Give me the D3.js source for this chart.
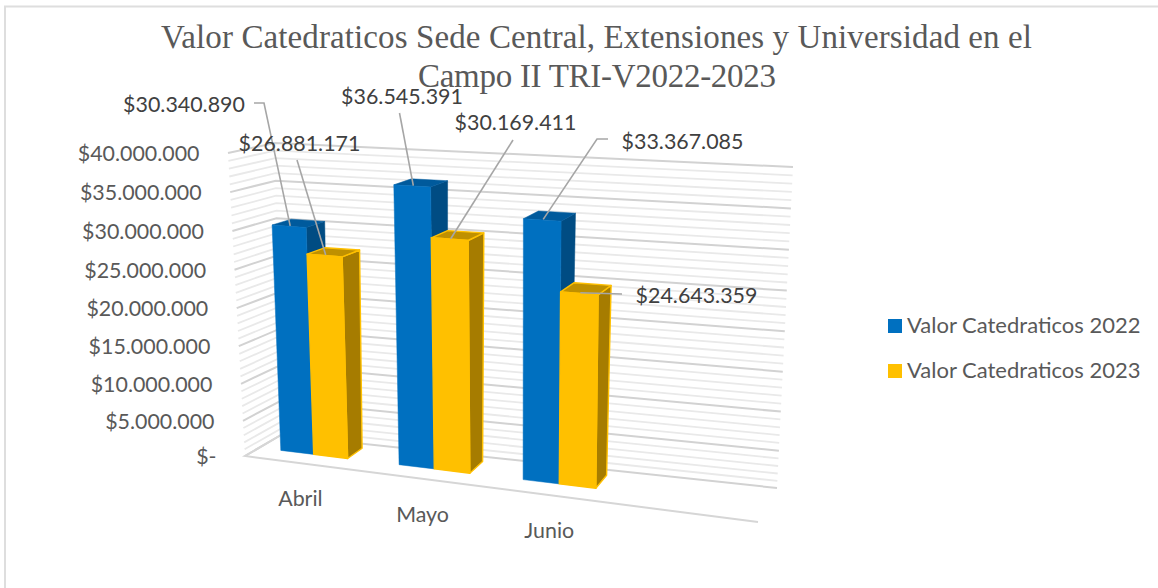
<!DOCTYPE html>
<html><head><meta charset="utf-8">
<script src="https://cdn.jsdelivr.net/npm/d3@7"></script>
<style>html,body{margin:0;padding:0;background:#fff}svg{display:block}</style>
</head><body><svg id="c" width="1158" height="588"></svg>
<script>
const titleLines = ["Valor Catedraticos Sede Central, Extensiones y Universidad en el","Campo II TRI-V2022-2023"];
const categories = ["Abril","Mayo","Junio",""];
const seriesNames = ["Valor Catedraticos 2022","Valor Catedraticos 2023"];
const values2022 = [30340890,36545391,33367085];
const values2023 = [26881171,30169411,24643359];
const tickValues = [0,5000000,10000000,15000000,20000000,25000000,30000000,35000000,40000000];
const tickLabels = ["$-","$5.000.000","$10.000.000","$15.000.000","$20.000.000","$25.000.000","$30.000.000","$35.000.000","$40.000.000"];
const dataLabels2022 = ["$30.340.890","$36.545.391","$33.367.085"];
const dataLabels2023 = ["$26.881.171","$30.169.411","$24.643.359"];

const W=1158,H=588, svg=d3.select("#c");
const LABEL_FONT="Lato, 'Open Sans', sans-serif", INK="#595959", DARK="#404040";
const FS=21.4;

// 3D box corners: f=front, b=back, l=left, r=right, 0=floor, 1=top
const box={fl0:[245,456],fr0:[758,522],bl0:[281,435],br0:[777,488],
           fl1:[228,153],fr1:[768,187],bl1:[275,143],br1:[793,167]};
const yScale=d3.scalePow().exponent(1.035).domain([0,40000000]).range([0,1]);
const persp=d3.scalePow().exponent(1.05).domain([0,1]).range([0,1]);
const catBand=d3.scaleBand().domain(categories).range([0,0.972]).paddingInner(0.426).paddingOuter(0.205);
const serBand=d3.scaleBand().domain(seriesNames).range([0,catBand.bandwidth()]);
const DEPTH_F=0.39, DEPTH_B=0.83;
const lerp=(a,b,t)=>[a[0]+(b[0]-a[0])*t,a[1]+(b[1]-a[1])*t];
function project(t,val,d){
  const u=persp(t), h=yScale(val);
  const f0=lerp(box.fl0,box.fr0,u), b0=lerp(box.bl0,box.br0,u);
  const f1=lerp(box.fl1,box.fr1,u), b1=lerp(box.bl1,box.br1,u);
  return lerp(lerp(f0,b0,d),lerp(f1,b1,d),h);
}
const poly=pts=>"M"+pts.map(p=>p[0].toFixed(1)+","+p[1].toFixed(1)).join("L")+"Z";
const line=pts=>"M"+pts.map(p=>p[0].toFixed(1)+","+p[1].toFixed(1)).join("L");

// frame
svg.append("path").attr("d","M5,588V6.5H1158").attr("fill","none").attr("stroke","#dedede").attr("stroke-width",2);

// gridlines on the left and back walls
const minor=d3.range(0,40000001,1000000).filter(v=>v%5000000!==0);
const gridG=svg.append("g").attr("fill","none");
gridG.selectAll("path.minor").data(minor).join("path").attr("class","minor")
  .attr("d",v=>line([project(0,v,0),project(0,v,1),project(1,v,1)]))
  .attr("stroke","#e9e9e9").attr("stroke-width",1.8);
gridG.selectAll("path.major").data(tickValues).join("path").attr("class","major")
  .attr("d",v=>line([project(0,v,0),project(0,v,1),project(1,v,1)]))
  .attr("stroke","#d2d2d2").attr("stroke-width",2);
// floor edges
svg.append("path").attr("d",line([project(0,0,1),project(0,0,0),project(1,0,0)])).attr("fill","none")
  .attr("stroke","#d6d6d6").attr("stroke-width",2);

// axis labels
svg.append("g").selectAll("text").data(tickValues).join("text")
  .attr("x",v=>project(0,v,0)[0]-28.5).attr("y",v=>project(0,v,0)[1]+8)
  .attr("text-anchor","end").attr("font-family",LABEL_FONT).attr("font-size",FS).attr("fill",INK)
  .text((v,i)=>tickLabels[i]);
svg.append("g").selectAll("text").data(categories.slice(0,3)).join("text")
  .attr("x",c=>project(catBand(c)+catBand.bandwidth()/2,0,0)[0])
  .attr("y",c=>project(catBand(c)+catBand.bandwidth()/2,0,0)[1]+43)
  .attr("text-anchor","middle").attr("font-family",LABEL_FONT).attr("font-size",FS).attr("fill",INK)
  .text(c=>c);

// bars
const styles=[{front:"#0070C0",side:"#004C83",top:"#005A9C",edge:"none"},
              {front:"#FFC000",side:"#A67C00",top:"#BF9000",edge:"#FFC000"}];
const barRows=[];
categories.slice(0,3).forEach((c,i)=>{
  seriesNames.forEach((s,j)=>{
    barRows.push({c,s,j,val:(j===0?values2022:values2023)[i]});
  });
});
const bars=svg.append("g").selectAll("g").data(barRows).join("g");
bars.each(function(b){
  const g=d3.select(this), st=styles[b.j];
  const x0=catBand(b.c)+serBand(b.s), x1=x0+serBand.bandwidth();
  const P=(x,v,d)=>project(x,v,d);
  const add=(pts,fill)=>g.append("path").attr("d",poly(pts)).attr("fill",fill)
    .attr("stroke",st.edge==="none"?fill:st.edge).attr("stroke-width",st.edge==="none"?0.5:1.4).attr("stroke-linejoin","round");
  add([P(x1,0,DEPTH_F),P(x1,0,DEPTH_B),P(x1,b.val,DEPTH_B),P(x1,b.val,DEPTH_F)],st.side);
  add([P(x0,b.val,DEPTH_F),P(x1,b.val,DEPTH_F),P(x1,b.val,DEPTH_B),P(x0,b.val,DEPTH_B)],st.top);
  add([P(x0,0,DEPTH_F),P(x1,0,DEPTH_F),P(x1,b.val,DEPTH_F),P(x0,b.val,DEPTH_F)],st.front);
});

// data label callouts (label centre and leader elbow points; the leaders end on the bar tops)
const calloutLayout=[
 {x:184,y:104,elbow:[[254,103],[264,103]]},
 {x:299.5,y:143,elbow:[[297,160]]},
 {x:402,y:96,elbow:[[399.5,113]]},
 {x:515.5,y:122,elbow:[[513,140]]},
 {x:682.5,y:141,elbow:[[608,139],[597,139]]},
 {x:696.5,y:295,elbow:[[622,294]]}];
const calloutLabels=[dataLabels2022[0],dataLabels2023[0],dataLabels2022[1],dataLabels2023[1],dataLabels2022[2],dataLabels2023[2]];
const callG=svg.append("g");
calloutLayout.forEach((l,i)=>{
  const b=barRows[i];
  const cx=catBand(b.c)+serBand(b.s)+serBand.bandwidth()/2;
  const tip=project(cx,b.val,DEPTH_F+0.03);
  callG.append("path").attr("d",line([...l.elbow,tip])).attr("fill","none").attr("stroke","#a6a6a6").attr("stroke-width",1.6);
  callG.append("text").attr("x",l.x).attr("y",l.y+8).attr("text-anchor","middle")
    .attr("font-family",LABEL_FONT).attr("font-size",FS).attr("fill",DARK).text(calloutLabels[i]);
});

// legend
const lg=svg.append("g");
seriesNames.forEach((s,i)=>{
  const y=326+i*45;
  lg.append("rect").attr("x",888).attr("y",y-7).attr("width",14).attr("height",14)
    .attr("fill",styles[i].front);
  lg.append("text").attr("x",907).attr("y",y+7).attr("font-family",LABEL_FONT).attr("font-size",22).attr("fill",INK).text(s);
});

// title
[[596.5,48,871],[597,87,358]].forEach((p,i)=>{
  svg.append("text").attr("x",p[0]).attr("y",p[1]).attr("text-anchor","middle")
    .attr("font-family","'Liberation Serif',serif").attr("font-size",33).attr("fill",INK)
    .attr("textLength",p[2]).attr("lengthAdjust","spacing").text(titleLines[i]);
});
</script></body></html>
